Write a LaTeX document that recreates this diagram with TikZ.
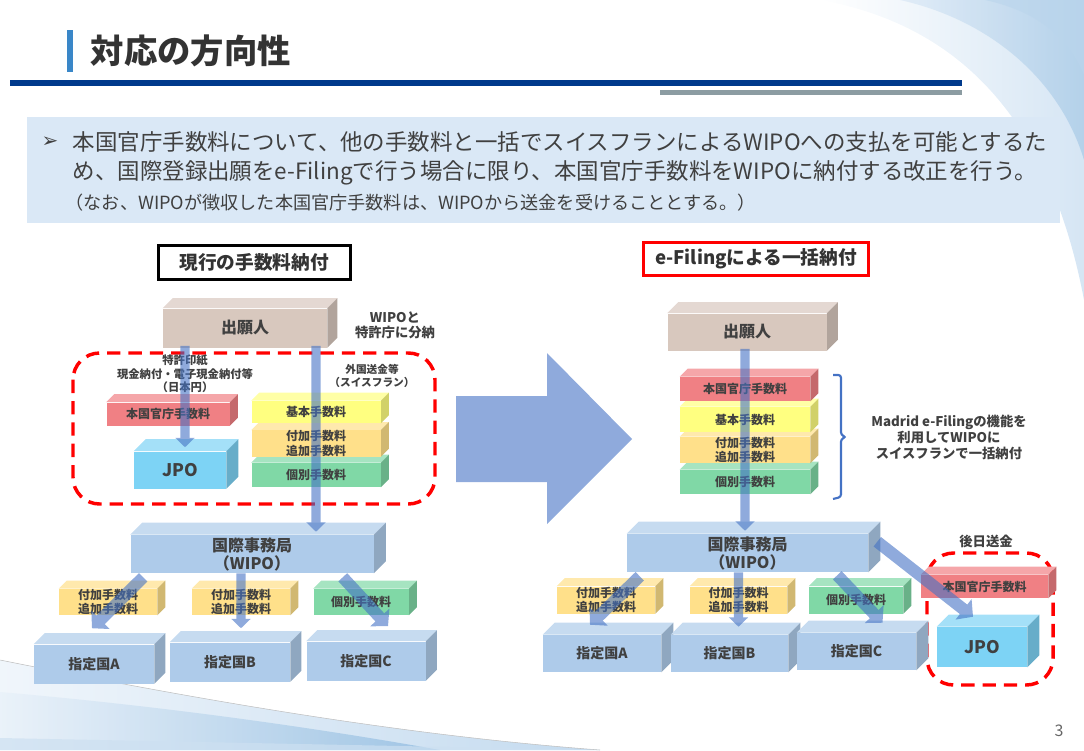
\documentclass[tikz,border=0pt]{standalone}
\usepackage{fontspec}
\setmainfont{Noto Sans CJK JP}
\newfontfamily\symfont{DejaVu Sans}
\usetikzlibrary{arrows.meta,calc}
\definecolor{txt}{HTML}{404040}
\definecolor{ink}{HTML}{333333}
\definecolor{navy}{HTML}{003A8C}
\definecolor{steel}{HTML}{8C9CA2}
\definecolor{leadbg}{HTML}{DAE8F6}
\definecolor{accent}{HTML}{3A87C8}
\definecolor{flowblue}{HTML}{4472C4}
\definecolor{bigarrow}{HTML}{8FAADC}
\definecolor{applicant}{HTML}{D8C8BE}
\definecolor{office}{HTML}{AECBEA}
\definecolor{jpo}{HTML}{7DD3F5}
\definecolor{natfee}{HTML}{F08084}
\definecolor{basefee}{HTML}{FFFF80}
\definecolor{addfee}{HTML}{FFE08A}
\definecolor{indfee}{HTML}{80D8A6}
\definecolor{alarm}{HTML}{FF0000}

\tikzset{
  sz/.style 2 args={minimum width=#1*0.75pt, minimum height=#2*0.75pt},
  cube/.style 2 args={rectangle, fill=#1, inner sep=0pt, align=center, text=txt,
    append after command={\pgfextra{
      \fill[#1!70!white] (\tikzlastnode.north west) -- ++(#2,-#2)
        -- ($(\tikzlastnode.north east)+(#2,-#2)$) -- (\tikzlastnode.north east) -- cycle;
      \fill[#1!82!black] (\tikzlastnode.north east) -- ++(#2,-#2)
        -- ($(\tikzlastnode.south east)+(#2,-#2)$) -- (\tikzlastnode.south east) -- cycle;}}},
  fee/.style={font=\bfseries\fontsize{9}{11}\selectfont},
  koku/.style={font=\bfseries\fontsize{10.5}{12}\selectfont},
  note/.style={align=center, text=txt},
  flow/.style={draw=flowblue, line width=7pt, -{Triangle[width=14pt,length=7pt]}},
  flowthick/.style={draw=flowblue, line width=9pt, -{Triangle[width=19pt,length=9pt]}},
  alarmbox/.style={draw=alarm, line width=2.6pt, dash pattern=on 10pt off 6pt, rounded corners=20pt},
}

\begin{document}
\begin{tikzpicture}[x=0.75pt, y=-0.75pt]
  \useasboundingbox (0,0) rectangle (1084,750);

  % background swooshes
  \begin{scope}
    \clip (0,0) rectangle (1084,750);
    \shade[left color=white, right color=leadbg!80!accent!60] (820,0) .. controls (960,25) and (1050,120) .. (1084,300) -- (1084,0) -- cycle;
    \shade[left color=leadbg, right color=accent!45, opacity=.7] (900,0) .. controls (990,20) and (1060,80) .. (1084,160) -- (1084,0) -- cycle;
    \fill[accent!35, opacity=.6] (985,0) .. controls (1040,12) and (1070,40) .. (1084,75) -- (1084,0) -- cycle;
    \shade[left color=leadbg!40, right color=leadbg!70!accent!70] (0,660) .. controls (200,700) and (400,735) .. (600,750) -- (0,750) -- cycle;
    \draw[gray!50, line width=.4pt] (0,660) .. controls (200,700) and (400,735) .. (600,750);
    \shade[left color=leadbg!60, right color=accent!55, opacity=.8] (0,692) .. controls (150,705) and (300,725) .. (440,750) -- (0,750) -- cycle;
    \fill[leadbg!60!accent!50, opacity=.7] (0,738) -- (600,750) -- (0,750) -- cycle;
  \end{scope}

  % heading
  \fill[accent] (67,30) rectangle (73,72);
  \node[anchor=west, text=ink, font=\bfseries\fontsize{25}{29}\selectfont] (ttl) at (86,51) {対応の方向性};
  \fill[navy] (10,80) rectangle (962,86);
  \fill[steel] (660,90) rectangle (962,95);

  \fill[leadbg] (27,117) rectangle (1060,223);
  \node[text=txt, font=\symfont\fontsize{15}{17}\selectfont] (mark) at (50,142) {➢};
  \node[anchor=west, text=txt, font=\fontsize{16.85}{20}\selectfont] (lead1) at (68,142) {本国官庁手数料について、他の手数料と一括でスイスフランによるWIPOへの支払を可能とするた};
  \node[anchor=west, text=txt, font=\fontsize{16.85}{20}\selectfont] (lead2) at (68,173) {め、国際登録出願をe-Filingで行う場合に限り、本国官庁手数料をWIPOに納付する改正を行う。};
  \node[anchor=west, text=txt, font=\fontsize{13.6}{16}\selectfont] (lead3) at (61,203) {（なお、WIPOが徴収した本国官庁手数料は、WIPOから送金を受けることとする。）};

  \node[draw=black, line width=2.25pt, sz={192}{34}, text=ink, font=\bfseries\fontsize{14}{16}\selectfont] (headL) at (254,262) {現行の手数料納付};
  \node[draw=alarm, line width=2.25pt, sz={225}{33}, text=ink, font=\bfseries\fontsize{14}{16}\selectfont] (headR) at (756,259) {e-Filingによる一括納付};

  \draw[alarmbox] (73,353) rectangle (435,504);
  \draw[alarmbox] (927,553) rectangle (1053,685);

  \fill[bigarrow] (456,396) -- (547,396) -- (547,353) -- (632,439) -- (547,524) -- (547,482) -- (456,482) -- cycle;

  % current payment
  \node[cube={applicant}{10}, sz={164}{39}, font=\bfseries\fontsize{12}{14}\selectfont] (appL) at (245,328) {出願人};
  \node[cube={natfee}{8}, sz={123}{23}, fee] (honL) at (168,414) {本国官庁手数料};
  \node[cube={jpo}{12}, sz={92}{37}, font=\bfseries\fontsize{13}{15}\selectfont] (jpoL) at (180,470) {JPO};
  \node[cube={indfee}{8}, sz={129}{24}, fee] (kobetsuL) at (316,475) {個別手数料};
  \node[cube={addfee}{8}, sz={129}{24}, fee] (fukaL) at (316,443.5) {付加手数料\\追加手数料};
  \node[cube={basefee}{8}, sz={129}{22}, fee] (kihonL) at (316,412) {基本手数料};
  \node[cube={office}{12}, sz={243}{38}, font=\bfseries\fontsize{12}{13.5}\selectfont] (wipoL) at (252,554) {国際事務局\\（WIPO）};
  \node[cube={addfee}{8}, sz={98}{26}, fee] (feeLA) at (108,602) {付加手数料\\追加手数料};
  \node[cube={addfee}{8}, sz={98}{26}, fee] (feeLB) at (241,602) {付加手数料\\追加手数料};
  \node[cube={indfee}{8}, sz={95}{26}, fee] (feeLC) at (361,602) {個別手数料};
  \node[cube={office}{11}, sz={120}{39}, koku] (kokuLA) at (94,664) {指定国A};
  \node[cube={office}{11}, sz={120}{39}, koku] (kokuLB) at (230,662) {指定国B};
  \node[cube={office}{11}, sz={119}{39}, koku] (kokuLC) at (366,661) {指定国C};

  \node[note, font=\bfseries\fontsize{8.5}{10}\selectfont] (inshi) at (185,374) {特許印紙\\現金納付・電子現金納付等\\（日本円）};
  \node[note, font=\bfseries\fontsize{8}{9.75}\selectfont] (soukin) at (372,376) {外国送金等\\（スイスフラン）};
  \node[note, font=\bfseries\fontsize{10}{11.25}\selectfont] (bunno) at (395,325) {WIPOと\\特許庁に分納};

  % e-filing payment
  \node[cube={applicant}{11}, sz={159}{37}, font=\bfseries\fontsize{12}{14}\selectfont] (appR) at (747,332) {出願人};
  \node[cube={indfee}{8}, sz={130}{24}, fee] (kobetsuR) at (745,482) {個別手数料};
  \node[cube={addfee}{8}, sz={130}{25}, fee] (fukaR) at (745,450) {付加手数料\\追加手数料};
  \node[cube={basefee}{8}, sz={130}{25}, fee] (kihonR) at (745,419.5) {基本手数料};
  \node[cube={natfee}{8}, sz={130}{24}, fee] (honR) at (745,389) {本国官庁手数料};
  \node[cube={office}{12}, sz={241}{38}, font=\bfseries\fontsize{12}{13.5}\selectfont] (wipoR) at (747.5,553) {国際事務局\\（WIPO）};
  \node[cube={addfee}{8}, sz={98}{27}, fee] (feeRA) at (606,600) {付加手数料\\追加手数料};
  \node[cube={addfee}{8}, sz={97}{27}, fee] (feeRB) at (738.5,600) {付加手数料\\追加手数料};
  \node[cube={indfee}{8}, sz={94}{27}, fee] (feeRC) at (856,600) {個別手数料};
  \node[cube={office}{12}, sz={118}{37}, koku] (kokuRA) at (602,653.5) {指定国A};
  \node[cube={office}{12}, sz={117}{37}, koku] (kokuRB) at (729.5,653.5) {指定国B};
  \node[cube={office}{12}, sz={119}{37}, koku] (kokuRC) at (856.5,651.5) {指定国C};
  \node[cube={natfee}{8}, sz={127}{23}, fee] (honR2) at (984.5,586.5) {本国官庁手数料};
  \node[cube={jpo}{12}, sz={90}{40}, font=\bfseries\fontsize{13}{15}\selectfont] (jpoR) at (982,647) {JPO};

  \draw[flowblue, line width=1.6pt, rounded corners=2pt] (833,375) -- (841,375) -- (841,435) -- (846,437) -- (841,439) -- (841,497) -- (833,499);
  \node[note, font=\bfseries\fontsize{10}{12}\selectfont] (madrid) at (949,437) {Madrid e-Filingの機能を\\利用してWIPOに\\スイスフランで一括納付};
  \node[note, font=\bfseries\fontsize{10}{12}\selectfont] (gojitsu) at (986,541) {後日送金};

  \begin{scope}[transparency group, opacity=.6]
    \draw[flow] ($(jpoL.north |- appL.south)+(5,-2)$) -- ($(jpoL.north)+(5,-4)$);
    \draw[flow] ($(kihonL.north |- appL.south)+(0,-2)$) -- ($(kihonL.center |- wipoL.north)+(0,-3)$);
    \draw[flowthick] ($(wipoL.south west)+(13,4)$) -- ($(kokuLA.north)+(-2,-16)$);
    \draw[flow] (feeLB.center |- wipoL.south) -- ($(feeLB.center |- kokuLB.north)+(0,-14)$);
    \draw[flowthick] ($(wipoL.south east)+(-31,4)$) -- ($(kokuLC.north)+(22,-15)$);
    \draw[flow] ($(honR.north |- appR.south)+(0,-2)$) -- ($(honR.center |- wipoR.north)+(0,-3)$);
    \draw[flowthick] ($(wipoR.south west)+(13,4)$) -- ($(kokuRA.north)+(-12,-10)$);
    \draw[flow] (feeRB.center |- wipoR.south) -- ($(feeRB.center |- kokuRB.north)+(0,-8)$);
    \draw[flowthick] ($(wipoR.south east)+(-31,3)$) -- ($(kokuRC.north)+(26,-10)$);
    \draw[flowthick] ($(wipoR.north east)+(9,8)$) -- ($(jpoR.north)+(-9,-10)$);
  \end{scope}

  \node[text=txt!80, font=\fontsize{12}{14}\selectfont] (pagenum) at (1059,731) {3};
\end{tikzpicture}
\end{document}
